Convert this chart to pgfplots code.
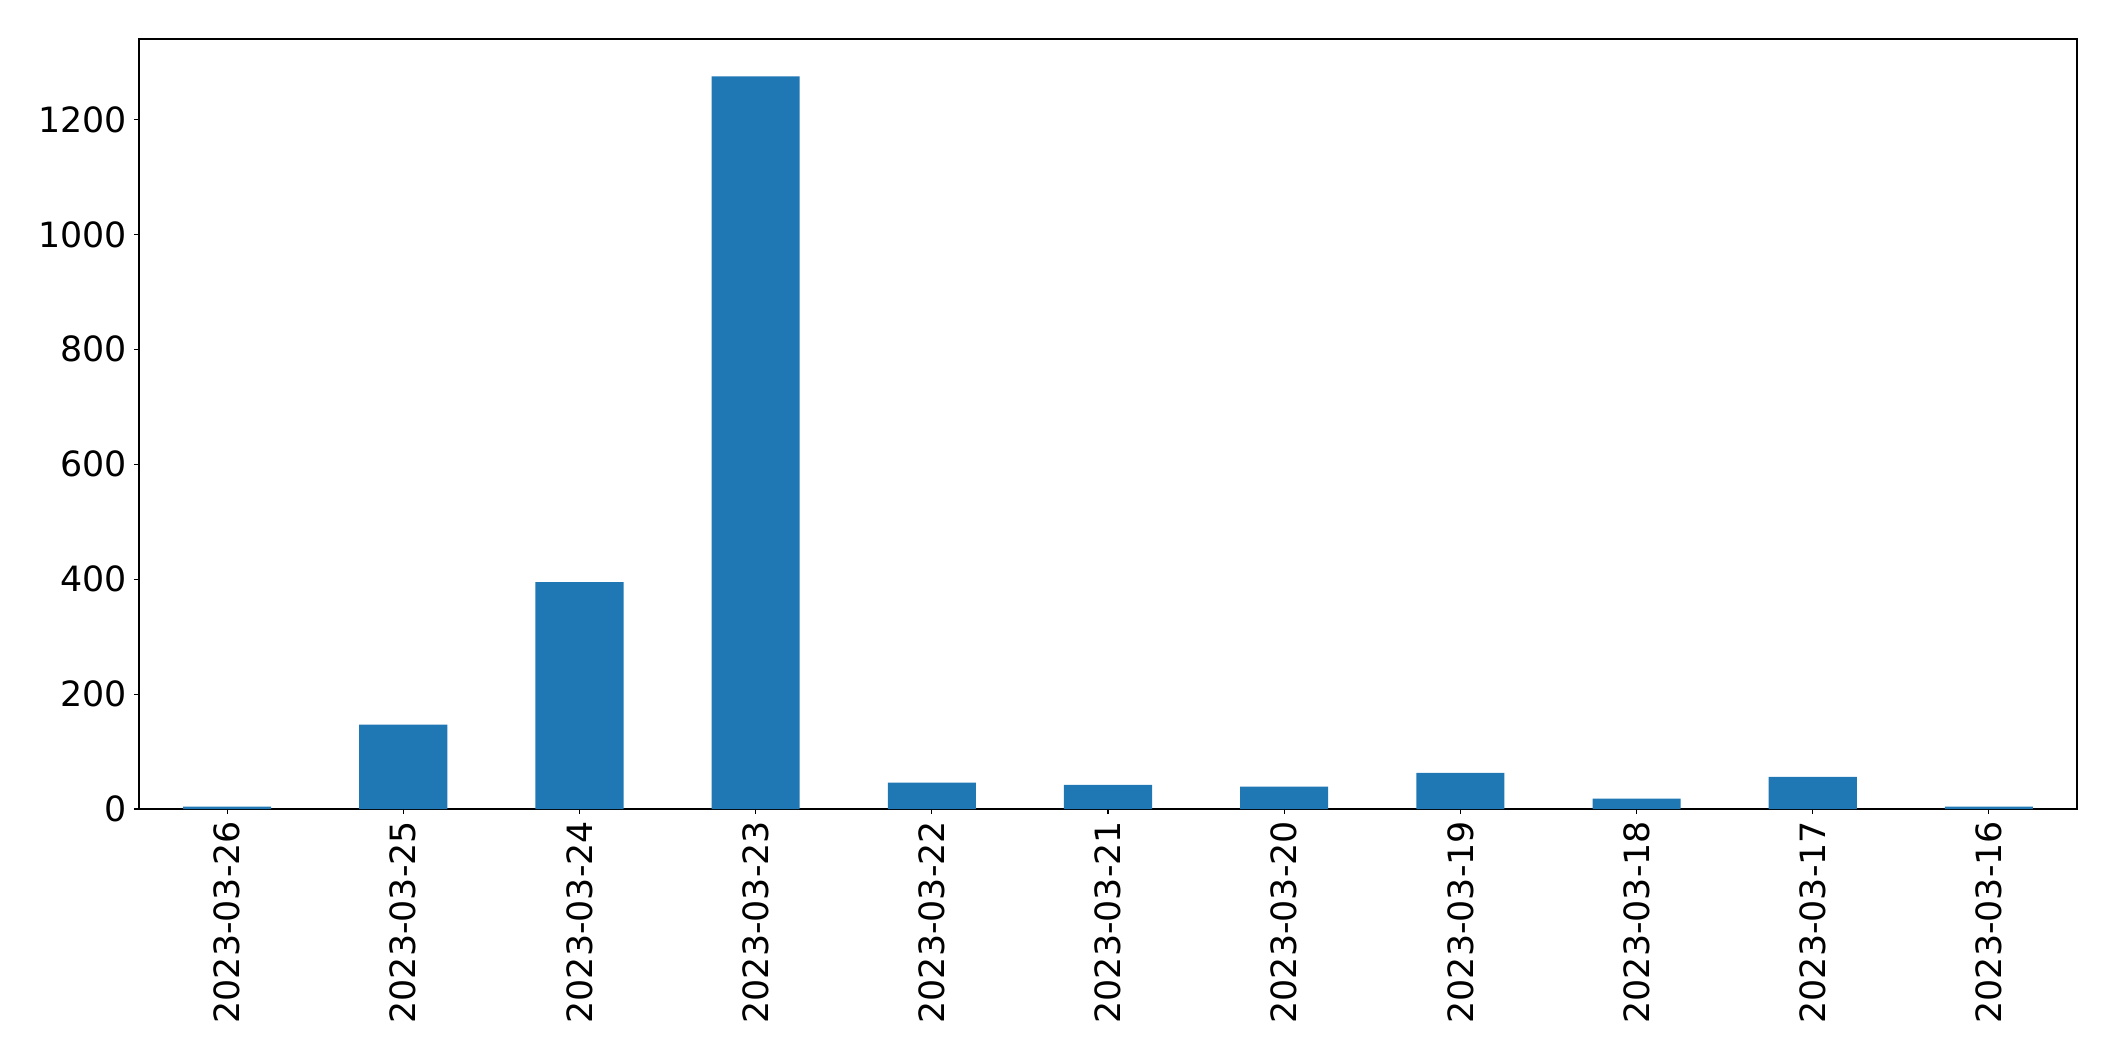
\documentclass[border=0pt]{standalone}
\usepackage{pgfplots}
\pgfplotsset{compat=1.18}
\usepackage{fontspec}
\setmainfont{DejaVu Sans}
\definecolor{mplblue}{HTML}{1F77B4}
\begin{document}
\begin{tikzpicture}
\path[use as bounding box] (-69.5pt,-126pt) rectangle (988pt,404.5pt);
\begin{axis}[
  at={(0,0)}, anchor=south west,
  scale only axis, width=969pt, height=385pt,
  xmin=-0.5, xmax=10.5, ymin=0, ymax=1340,
  xtick={0,...,10},
  xticklabels={2023-03-26,2023-03-25,2023-03-24,2023-03-23,2023-03-22,2023-03-21,2023-03-20,2023-03-19,2023-03-18,2023-03-17,2023-03-16},
  x tick label style={rotate=90, anchor=east, font=\fontsize{17.4}{20}\selectfont},
  ytick={0,200,400,600,800,1000,1200},
  y tick label style={font=\fontsize{17.4}{20}\selectfont},
  /pgf/number format/assume math mode=true,
  scaled y ticks=false,
  yticklabel style={/pgf/number format/1000 sep={}},
  tick align=outside, tick pos=left,
  major tick length=2.5pt,
  tick style={line width=0.55pt, black},
  axis line style={line width=0.55pt},
  ybar, bar width=0.5,
]
\addplot[fill=mplblue, draw=none] coordinates {
(0,4) (1,147) (2,395) (3,1275) (4,46) (5,42) (6,39) (7,63) (8,18) (9,56) (10,4)
};
\end{axis}
\end{tikzpicture}
\end{document}
